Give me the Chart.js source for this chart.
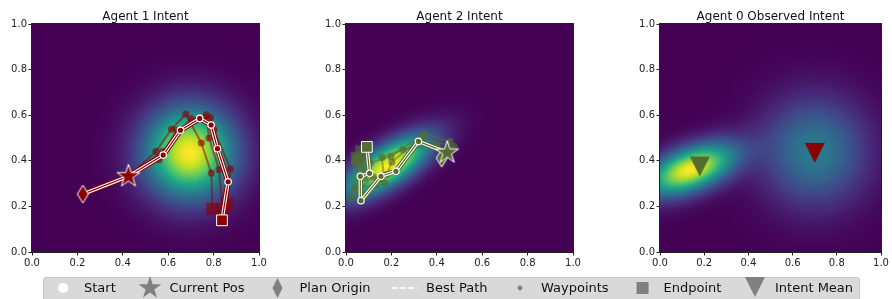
<!DOCTYPE html>
<html><head><meta charset="utf-8">
<script src="https://cdn.jsdelivr.net/npm/chart.js@4.4.1/dist/chart.umd.min.js"></script>
<style>
html,body{margin:0;padding:0;background:#fff;overflow:hidden;}
#wrap{position:relative;width:892px;height:299px;overflow:hidden;background:#fff;}
.pan{position:absolute;left:0;top:0;}
#legend{position:absolute;left:43px;top:277px;width:817px;height:30px;box-sizing:border-box;background:#d9d9d9;border:1px solid #c4c4c4;border-radius:3px;}
#legIcons{position:absolute;left:0;top:0;}
.lt{position:absolute;top:281px;height:14px;font-family:"DejaVu Sans";font-size:13px;line-height:14px;color:#111;white-space:nowrap;}
</style></head>
<body><div id="wrap">
<canvas id="c1" class="pan" width="892" height="270"></canvas>
<canvas id="c2" class="pan" width="892" height="270"></canvas>
<canvas id="c3" class="pan" width="892" height="270"></canvas>
<div id="legend"></div>
<canvas id="legIcons" width="892" height="299"></canvas>
</div>
<script>
// ---------------- data ----------------
const panelTitles = ['Agent 1 Intent', 'Agent 2 Intent', 'Agent 0 Observed Intent'];
const tickValues = [0, 0.2, 0.4, 0.6, 0.8, 1.0];
const legendLabels = ['Start', 'Current Pos', 'Plan Origin', 'Best Path', 'Waypoints', 'Endpoint', 'Intent Mean'];

// Agent 1 (dark red)
const a1Origin = [0.224, 0.254];
const a1Current = [0.425, 0.332];
const a1BestX = [0.578, 0.654, 0.739, 0.789, 0.817, 0.864];
const a1BestY = [0.425, 0.534, 0.586, 0.557, 0.453, 0.308];
const a1End = [0.837, 0.139];
const a1AltX = [[0.546, 0.615, 0.678, 0.746, 0.790], [0.560, 0.637, 0.768, 0.780, 0.824], [0.575, 0.700, 0.786, 0.802, 0.874]];
const a1AltY = [[0.441, 0.539, 0.605, 0.478, 0.346], [0.405, 0.535, 0.602, 0.500, 0.361], [0.440, 0.585, 0.590, 0.536, 0.364]];
const a1AltEndX = [0.795, 0.840, 0.859];
const a1AltEndY = [0.189, 0.185, 0.212];

// Agent 2 (olive)
const a2Origin = [0.422, 0.412];
const a2Current = [0.446, 0.436];
const a2BestX = [0.319, 0.220, 0.154, 0.066, 0.063, 0.104];
const a2BestY = [0.485, 0.354, 0.332, 0.225, 0.332, 0.345];
const a2End = [0.092, 0.461];
const a2AltX = [[0.458, 0.344, 0.198, 0.107, 0.078, 0.085], [0.476, 0.330, 0.202, 0.180, 0.136, 0.041], [0.400, 0.250, 0.158, 0.170, 0.120, 0.023]];
const a2AltY = [[0.485, 0.518, 0.419, 0.390, 0.361, 0.325], [0.463, 0.500, 0.395, 0.339, 0.295, 0.281], [0.470, 0.450, 0.415, 0.303, 0.330, 0.240]];
const a2AltEndX = [0.048, 0.068, 0.055];
const a2AltEndY = [0.412, 0.440, 0.400];

// Observed intent means (panel 3)
const meanX = [0.180, 0.700];
const meanY = [0.375, 0.435];

// Heat-map components per panel: [meanX, meanY, sigmaMajor, sigmaMinor, angleDeg, weight]
const heatAgent1 = [[0.695, 0.435, 0.135, 0.135, 0, 1]];
const heatAgent2 = [[0.185, 0.378, 0.15, 0.058, 32, 1]];
const heatObserved = [[0.140, 0.362, 0.145, 0.064, 20, 1], [0.700, 0.440, 0.16, 0.16, 0, 0.42]];

// ---------------- styles ----------------
const RED = '#8b0000', OLIVE = '#556b2f';
const FONT = '"DejaVu Sans", "Liberation Sans", sans-serif';
const viridis = ['#440154','#482475','#414487','#355f8d','#2a788e','#21918c','#22a884','#44bf70','#7ad151','#bddf26','#fde725']
  .map(h => [parseInt(h.slice(1,3),16), parseInt(h.slice(3,5),16), parseInt(h.slice(5,7),16)]);
function cmap(t){
  t = Math.max(0, Math.min(1, t)) * 10; const i = Math.min(9, Math.floor(t)); const f = t - i;
  const a = viridis[i], b = viridis[i+1];
  return [a[0]+(b[0]-a[0])*f, a[1]+(b[1]-a[1])*f, a[2]+(b[2]-a[2])*f];
}
function heatValue(comps, x, y){
  let s = 0;
  for (const c of comps){
    const ang = c[4]*Math.PI/180, ca = Math.cos(ang), sa = Math.sin(ang);
    const dx = x - c[0], dy = y - c[1];
    const u = dx*ca + dy*sa, v = -dx*sa + dy*ca;
    s += c[5]*Math.exp(-0.5*(u*u/(c[2]*c[2]) + v*v/(c[3]*c[3])));
  }
  return s;
}
function heatPlugin(comps){
  return {
    id: 'heat',
    beforeDatasetsDraw(chart){
      const {left, top, right, bottom} = chart.chartArea;
      const L = Math.round(left), T = Math.round(top);
      const w = Math.round(right) - L, h = Math.round(bottom) - T;
      const xs = chart.scales.x, ys = chart.scales.y;
      const vals = new Float32Array(w*h); let mx = 0;
      for (let j = 0; j < h; j++){
        const yv = ys.getValueForPixel(T + j + 0.5);
        for (let i = 0; i < w; i++){
          const v = heatValue(comps, xs.getValueForPixel(L + i + 0.5), yv);
          vals[j*w+i] = v; if (v > mx) mx = v;
        }
      }
      const img = chart.ctx.createImageData(w, h);
      for (let k = 0; k < w*h; k++){
        const c = cmap(vals[k]/mx);
        img.data[4*k] = c[0]; img.data[4*k+1] = c[1]; img.data[4*k+2] = c[2]; img.data[4*k+3] = 255;
      }
      chart.ctx.putImageData(img, L, T);
    }
  };
}
function framePlugin(title){
  return {
    id: 'frame',
    afterDraw(chart){
      const {left, top, right, bottom} = chart.chartArea; const ctx = chart.ctx;
      ctx.save();
      ctx.strokeStyle = '#222'; ctx.lineWidth = 1;
      ctx.strokeRect(Math.round(left) - 0.5, Math.round(top) - 0.5, Math.round(right) - Math.round(left) + 1, Math.round(bottom) - Math.round(top) + 1);
      ctx.fillStyle = '#111'; ctx.font = '12px ' + FONT; ctx.textAlign = 'center'; ctx.textBaseline = 'alphabetic';
      ctx.fillText(title, (left + right)/2, 19.5);
      ctx.restore();
    }
  };
}
// ---------------- marker images ----------------
function mk(w, h, draw){
  const c = document.createElement('canvas'); c.width = w; c.height = h;
  const g = c.getContext('2d'); g.translate(w/2, h/2); draw(g); return c;
}
function starPath(g, R){
  const r = R*0.382; g.beginPath();
  for (let k = 0; k < 10; k++){
    const a = -Math.PI/2 + k*Math.PI/5, rr = k % 2 ? r : R;
    const px = rr*Math.cos(a), py = rr*Math.sin(a);
    k ? g.lineTo(px, py) : g.moveTo(px, py);
  }
  g.closePath();
}
function diamondPath(g, w, h){ g.beginPath(); g.moveTo(0,-h/2); g.lineTo(w/2,0); g.lineTo(0,h/2); g.lineTo(-w/2,0); g.closePath(); }
function triDownPath(g, w, h){ g.beginPath(); g.moveTo(-w/2,-h/2); g.lineTo(w/2,-h/2); g.lineTo(0,h/2); g.closePath(); }
function starImg(R, fill, stroke){ return mk(2*R+4, 2*R+4, g => { starPath(g, R); g.fillStyle = fill; g.fill(); if (stroke){ g.strokeStyle = stroke; g.lineWidth = 1; g.stroke(); } }); }
function diamondImg(w, h, fill, stroke){ return mk(w+4, h+4, g => { diamondPath(g, w, h); g.fillStyle = fill; g.fill(); if (stroke){ g.strokeStyle = stroke; g.lineWidth = 1; g.stroke(); } }); }
function triImg(w, h, fill){ return mk(w+2, h+2, g => { triDownPath(g, w, h); g.fillStyle = fill; g.fill(); }); }

function pts(xs, ys){ return xs.map((x, i) => ({x, y: ys[i]})); }
function agentDatasets(col, altCol, altPtCol, origin, cur, bx, by, end, ax, ay, aex, aey){
  const ds = [];
  const bestPts = [{x: origin[0], y: origin[1]}, {x: cur[0], y: cur[1]}, ...pts(bx, by), {x: end[0], y: end[1]}];
  // top-most first
  ds.push({data: [{x: cur[0], y: cur[1]}], pointStyle: starImg(12, col, '#fff'), pointRadius: 12});
  ds.push({data: [{x: origin[0], y: origin[1]}], pointStyle: diamondImg(11, 18, col, '#fff'), pointRadius: 10});
  ds.push({data: [{x: end[0], y: end[1]}], pointStyle: 'rect', pointRadius: 7.6, backgroundColor: col, borderColor: '#fff', borderWidth: 1});
  ds.push({data: pts(bx, by), pointStyle: 'circle', pointRadius: 3.2, backgroundColor: col, borderColor: '#fff', borderWidth: 1.2});
  ds.push({data: bestPts, showLine: true, borderColor: col, borderWidth: 1.2, pointRadius: 0});
  ds.push({data: bestPts, showLine: true, borderColor: '#ffffff', borderWidth: 3.4, pointRadius: 0});
  ds.push({data: bestPts, showLine: true, borderColor: col, borderWidth: 5.4, pointRadius: 0});
  ds.push({data: pts(aex, aey), pointStyle: 'rect', pointRadius: 8.8, backgroundColor: altPtCol, borderWidth: 0});
  for (let k = 0; k < ax.length; k++){
    ds.push({data: pts(ax[k], ay[k]), pointStyle: 'circle', pointRadius: 3.6, backgroundColor: altPtCol, borderWidth: 0});
    ds.push({data: [{x: cur[0], y: cur[1]}, ...pts(ax[k], ay[k]), {x: aex[k], y: aey[k]}], showLine: true, borderColor: altCol, borderWidth: 2, pointRadius: 0});
  }
  return ds;
}
const plotLefts = [32, 346, 660];
function makeChart(id, idx, datasets, heat){
  return new Chart(document.getElementById(id), {
    type: 'scatter',
    data: {datasets},
    options: {
      responsive: false, animation: false, events: [],
      layout: {padding: {left: plotLefts[idx] - 32, right: 892 - (plotLefts[idx] + 227), top: 24, bottom: 0}},
      plugins: {legend: {display: false}, tooltip: {enabled: false}, title: {display: false}},
      elements: {line: {tension: 0, borderJoinStyle: 'round', borderCapStyle: 'round'}},
      scales: {
        x: {type: 'linear', min: 0, max: 1, position: 'bottom',
          afterBuildTicks: s => { s.ticks = tickValues.map(v => ({value: v})); },
          afterFit: s => { s.height = 18; s.paddingLeft = 0; s.paddingRight = 0; },
          ticks: {callback: v => v.toFixed(1), color: '#222', font: {family: FONT, size: 10}, padding: 1.5, maxRotation: 0, autoSkip: false},
          grid: {drawOnChartArea: false, drawTicks: true, tickLength: 3.5, color: '#222', lineWidth: 1},
          border: {display: false}},
        y: {type: 'linear', min: 0, max: 1, position: 'left',
          afterBuildTicks: s => { s.ticks = tickValues.map(v => ({value: v})); },
          afterFit: s => { s.width = 32; s.paddingTop = 0; s.paddingBottom = 0; },
          ticks: {callback: v => v.toFixed(1), color: '#222', font: {family: FONT, size: 10}, padding: 1.5, autoSkip: false},
          grid: {drawOnChartArea: false, drawTicks: true, tickLength: 3.5, color: '#222', lineWidth: 1},
          border: {display: false}}
      }
    },
    plugins: [heatPlugin(heat), framePlugin(panelTitles[idx])]
  });
}
makeChart('c1', 0, agentDatasets(RED, 'rgba(139,0,0,0.5)', 'rgba(139,0,0,0.6)', a1Origin, a1Current, a1BestX, a1BestY, a1End, a1AltX, a1AltY, a1AltEndX, a1AltEndY), heatAgent1);
makeChart('c2', 1, agentDatasets(OLIVE, 'rgba(85,107,47,0.5)', 'rgba(85,107,47,0.65)', a2Origin, a2Current, a2BestX, a2BestY, a2End, a2AltX, a2AltY, a2AltEndX, a2AltEndY), heatAgent2);
makeChart('c3', 2, [
  {data: [{x: meanX[0], y: meanY[0]}], pointStyle: triImg(20, 20, OLIVE), pointRadius: 10},
  {data: [{x: meanX[1], y: meanY[1]}], pointStyle: triImg(20, 20, RED), pointRadius: 10}
], heatObserved);

// ---------------- legend ----------------
const legTextX = [84, 169.5, 299.5, 426, 541, 663.5, 775];
const wrap = document.getElementById('wrap');
legendLabels.forEach((t, i) => {
  const s = document.createElement('span'); s.className = 'lt'; s.textContent = t; s.style.left = legTextX[i] + 'px'; wrap.appendChild(s);
});
(function(){
  const g = document.getElementById('legIcons').getContext('2d');
  const cy = 288, GR = '#808080';
  g.fillStyle = '#fff'; g.beginPath(); g.arc(63.3, cy, 5, 0, 2*Math.PI); g.fill();
  g.save(); g.translate(150, cy); starPath(g, 12); g.fillStyle = GR; g.fill(); g.restore();
  g.save(); g.translate(277.5, cy); diamondPath(g, 10, 20); g.fillStyle = GR; g.fill(); g.restore();
  g.save(); g.strokeStyle = '#fff'; g.lineWidth = 1.5; g.setLineDash([5.5, 2.6]); g.beginPath(); g.moveTo(392, cy); g.lineTo(417.5, cy); g.stroke(); g.restore();
  g.fillStyle = GR; g.beginPath(); g.arc(520, cy, 2.4, 0, 2*Math.PI); g.fill();
  g.fillRect(636.5, cy - 6, 12, 12);
  g.save(); g.translate(755, 287); triDownPath(g, 20, 20); g.fillStyle = GR; g.fill(); g.restore();
})();
</script>
</body></html>
